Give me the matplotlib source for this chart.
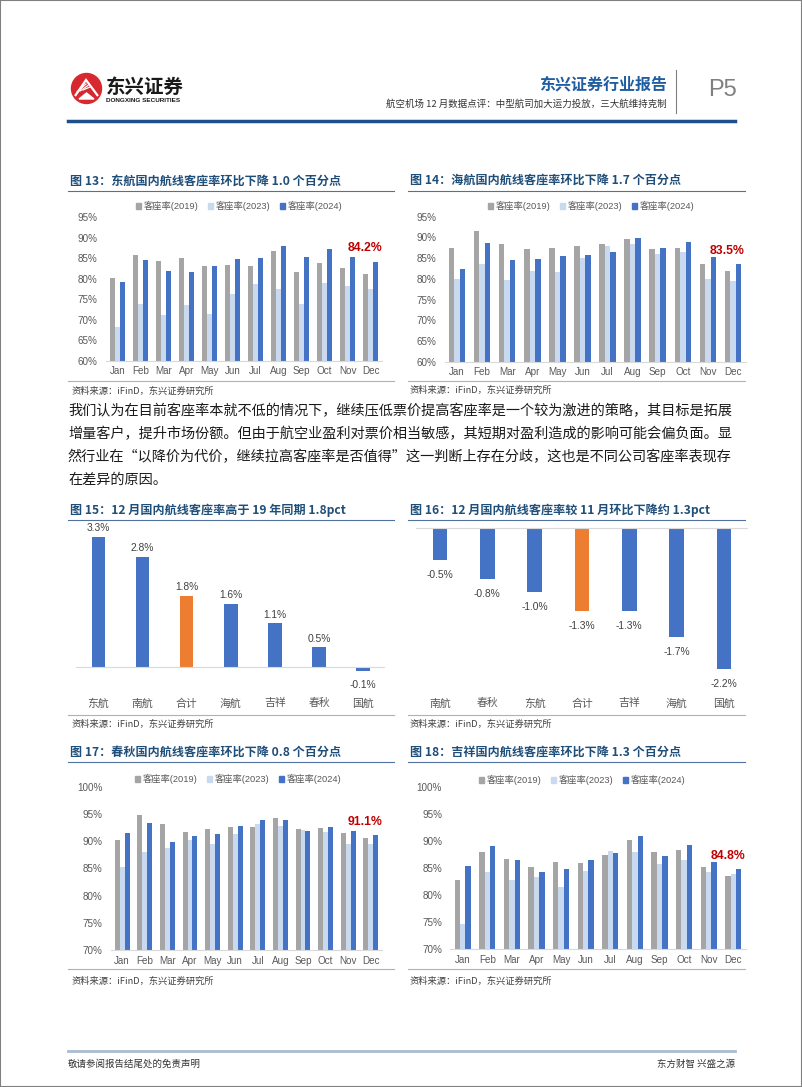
import numpy as np
import matplotlib.pyplot as plt
from matplotlib.patches import Rectangle, Circle, Patch, Polygon
from matplotlib.lines import Line2D

W, H = 802, 1087
plt.rcParams['font.family'] = ['Liberation Sans', 'Noto Sans CJK SC', 'DejaVu Sans']
CJK = ['Noto Sans CJK SC', 'DejaVu Sans']

# ---- data ----
MONTHS = ['Jan', 'Feb', 'Mar', 'Apr', 'May', 'Jun', 'Jul', 'Aug', 'Sep', 'Oct', 'Nov', 'Dec']
SERIES = ['客座率(2019)', '客座率(2023)', '客座率(2024)']

# 图13 东航
EA_2019 = [80.1, 85.7, 84.3, 85.0, 83.2, 83.4, 83.0, 86.7, 81.6, 83.8, 82.6, 81.1]
EA_2023 = [68.3, 73.8, 71.2, 73.6, 71.4, 76.4, 78.6, 77.6, 73.8, 79.0, 78.2, 77.4]
EA_2024 = [79.1, 84.5, 81.9, 81.6, 83.0, 84.8, 85.0, 88.0, 85.3, 87.2, 85.2, 84.2]

# 图14 海航
HNA_2019 = [87.5, 91.5, 88.4, 87.2, 87.4, 88.0, 88.4, 89.5, 87.3, 87.5, 83.6, 81.9]
HNA_2023 = [80.0, 83.5, 79.7, 81.9, 81.7, 85.1, 87.9, 88.3, 85.9, 86.6, 79.9, 79.6]
HNA_2024 = [82.3, 88.7, 84.6, 84.9, 85.4, 85.8, 86.6, 89.8, 87.5, 88.8, 85.2, 83.5]

# 图17 春秋
SPRING_2019 = [90.3, 94.8, 93.1, 91.8, 92.3, 92.7, 92.6, 94.3, 92.3, 92.5, 91.5, 90.6]
SPRING_2023 = [85.3, 88.0, 88.7, 90.2, 89.6, 91.3, 93.2, 92.8, 92.1, 91.8, 89.6, 89.5]
SPRING_2024 = [91.6, 93.3, 89.9, 91.0, 91.3, 92.9, 93.9, 93.9, 91.9, 92.7, 91.9, 91.1]

# 图18 吉祥
JY_2019 = [82.8, 88.0, 86.7, 85.2, 86.1, 86.0, 87.5, 90.2, 88.0, 88.3, 85.3, 83.5]
JY_2023 = [74.6, 84.4, 82.9, 83.4, 81.5, 84.5, 88.2, 88.1, 85.8, 86.5, 84.3, 84.0]
JY_2024 = [85.4, 89.2, 86.6, 84.3, 84.9, 86.6, 87.9, 90.9, 87.3, 89.4, 86.1, 84.8]

# 图15 vs 2019
VS19_CATS = ['东航', '南航', '合计', '海航', '吉祥', '春秋', '国航']
VS19_VALS = [3.3, 2.8, 1.8, 1.6, 1.1, 0.5, -0.1]

# 图16 mom
MOM_CATS = ['南航', '春秋', '东航', '合计', '吉祥', '海航', '国航']
MOM_VALS = [-0.5, -0.8, -1.0, -1.3, -1.3, -1.7, -2.2]

PARA = [
    '我们认为在目前客座率本就不低的情况下，继续压低票价提高客座率是一个较为激进的策略，其目标是拓展',
    '增量客户，提升市场份额。但由于航空业盈利对票价相当敏感，其短期对盈利造成的影响可能会偏负面。显',
    '然行业在“以降价为代价，继续拉高客座率是否值得”这一判断上存在分歧，这也是不同公司客座率表现存',
    '在差异的原因。',
]
SOURCE = '资料来源：iFinD，东兴证券研究所'

C19, C23, C24 = '#A5A5A5', '#C9DAF0', '#4472C4'
BLUE, ORANGE = '#4472C4', '#ED7D31'
TITLE_C = '#1F4E79'
TICK_C = '#595959'

fig = plt.figure(figsize=(W / 100, H / 100), dpi=100)
fig.patch.set_facecolor('white')


def add_ax(left, top, right, bottom):
    return fig.add_axes([left / W, 1 - bottom / H, (right - left) / W, (bottom - top) / H])


def ftext(x, y, s, **kw):
    return fig.text(x / W, 1 - y / H, s, **kw)


def hline(x0, x1, y, **kw):
    fig.add_artist(Line2D([x0 / W, x1 / W], [1 - y / H, 1 - y / H], transform=fig.transFigure, **kw))


def fig_title(x, y, s):
    ftext(x, y, s, family=CJK, fontsize=8.7, fontweight='bold', color=TITLE_C, va='center')


def source(x, y):
    ftext(x, y, SOURCE, family=CJK, fontsize=6.7, style='italic', color='#404040', va='center')


def month_chart(box, v19, v23, v24, ylim, step, hl, legend_xy):
    ax = add_ax(*box)
    x = np.arange(len(MONTHS))
    w = 0.22
    ax.bar(x - w, v19, w, color=C19)
    ax.bar(x, v23, w, color=C23)
    ax.bar(x + w, v24, w, color=C24)
    ax.set_xlim(-0.5, len(MONTHS) - 0.5)
    ax.set_ylim(*ylim)
    ax.set_yticks(np.arange(ylim[0], ylim[1] + 0.1, step))
    ax.yaxis.set_major_formatter(lambda v, p: f'{v:.0f}%')
    ax.set_xticks(x, MONTHS)
    ax.tick_params(length=0, colors=TICK_C, labelsize=7.1)
    ax.tick_params(axis='x', pad=4)
    ax.tick_params(axis='y', pad=6)
    for s in ['top', 'right', 'left']:
        ax.spines[s].set_visible(False)
    ax.spines['bottom'].set_color('#D9D9D9')
    ax.spines['bottom'].set_linewidth(0.8)
    ax.patch.set_alpha(0)
    ax.annotate(hl, xy=(x[-1] + w, v24[-1]), xytext=(-8, 9.5), textcoords='offset points',
                ha='center', va='center', fontsize=8.8, fontweight='bold', color='#C00000')
    handles = [Patch(color=c) for c in (C19, C23, C24)]
    ax.legend(handles, SERIES, loc='center', bbox_to_anchor=(legend_xy[0] / W, 1 - legend_xy[1] / H),
              bbox_transform=fig.transFigure, ncol=3, frameon=False,
              handlelength=0.6, handleheight=0.6, handletextpad=0.25, columnspacing=1.0,
              labelcolor=TICK_C, prop={'family': ['Liberation Sans', 'Noto Sans CJK SC'], 'size': 6.7})
    return ax


def diff_chart(box, cats, vals, ylim):
    ax = add_ax(*box)
    colors = [ORANGE if c == '合计' else BLUE for c in cats]
    bars = ax.bar(range(len(cats)), vals, 0.31, color=colors)
    ax.axhline(0, color='#D9D9D9', lw=0.8)
    ax.set_xlim(-0.5, len(cats) - 0.5)
    ax.set_ylim(*ylim)
    ax.set_xticks(range(len(cats)), cats, family=CJK)
    ax.set_yticks([])
    ax.tick_params(length=0, labelsize=7.8, colors=TICK_C, pad=6)
    for s in ax.spines.values():
        s.set_visible(False)
    ax.patch.set_alpha(0)
    pos = [f'{v:.1f}%' if v >= 0 else '' for v in vals]
    neg = [f'{v:.1f}%' if v < 0 else '' for v in vals]
    ax.bar_label(bars, labels=pos, padding=2.5, fontsize=7.4, color='#404040')
    ax.bar_label(bars, labels=neg, padding=7, fontsize=7.4, color='#404040')
    return ax


# ---- page frame / header ----
fig.add_artist(Rectangle((0, 0), 1, 1, transform=fig.transFigure, fill=False, ec='#808080', lw=1.5))

lax = add_ax(70, 72, 103, 105)
lax.set_xlim(0, 33)
lax.set_ylim(33, 0)
lax.set_aspect('equal')
lax.axis('off')
lax.add_patch(Circle((16.5, 16.5), 15, color='#D7282F'))
lax.add_patch(Polygon([[5, 24], [16, 8], [28, 24]], closed=False, fill=False, ec='white', lw=1.6))
for k in range(3):
    lax.plot([7 + 3 * k, 16 + 2 * k], [20 - 1 * k, 12 + 1.5 * k], color='white', lw=0.9)
lax.add_patch(Polygon([[9, 27], [16.5, 21], [24, 27]], closed=True, color='white'))

ftext(106, 87, '东兴证券', family=CJK, fontsize=14, fontweight='bold', color='#1a1a1a', va='center')
ftext(106, 100.5, 'DONGXING SECURITIES', fontsize=4.6, fontweight='bold', color='#1a1a1a', va='center')

ftext(667, 84, '东兴证券行业报告', family=CJK, fontsize=11.5, fontweight='bold', color='#1F5DA0',
      ha='right', va='center')
ftext(667, 104, '航空机场 12 月数据点评：中型航司加大运力投放，三大航维持克制', family=CJK,
      fontsize=6.8, color='#333333', ha='right', va='center')
fig.add_artist(Line2D([676 / W, 676 / W], [1 - 70 / H, 1 - 113 / H], transform=fig.transFigure,
                      color='#808080', lw=0.8))
ftext(722, 90, 'P5', fontsize=17, color='#808080', ha='center', va='center')
hline(68, 735, 121, color='#1F4E8C', lw=2.5)

# ---- 图13 / 图14 ----
fig_title(70, 181, '图 13：东航国内航线客座率环比下降 1.0 个百分点')
hline(68, 394, 191, color='#50709F', lw=0.8)
month_chart((105.8, 217.3, 382.2, 360.7), EA_2019, EA_2023, EA_2024, (60, 95), 5, '84.2%', (239, 206))
hline(68, 394, 381, color='#A0B4CC', lw=0.8)
source(72, 391)

fig_title(410, 180, '图 14：海航国内航线客座率环比下降 1.7 个百分点')
hline(408, 745, 191, color='#50709F', lw=0.8)
month_chart((444.5, 216.7, 745.5, 361.7), HNA_2019, HNA_2023, HNA_2024, (60, 95), 5, '83.5%', (591, 206))
hline(408, 745, 381, color='#A0B4CC', lw=0.8)
source(410, 390)

# ---- paragraph ----
for i, line in enumerate(PARA):
    ftext(68, 411 + 23 * i, line, family=CJK, fontsize=10.2, color='#1a1a1a', va='center')

# ---- 图15 / 图16 ----
fig_title(70, 510, '图 15：12 月国内航线客座率高于 19 年同期 1.8pct')
hline(68, 394, 520, color='#50709F', lw=0.8)
diff_chart((76.3, 527, 385.3, 690), VS19_CATS, VS19_VALS, (-0.59, 3.55))
hline(68, 394, 715, color='#A0B4CC', lw=0.8)
source(72, 724)

fig_title(410, 510, '图 16：12 月国内航线客座率较 11 月环比下降约 1.3pct')
hline(408, 745, 520, color='#50709F', lw=0.8)
diff_chart((416.3, 522, 747.7, 690), MOM_CATS, MOM_VALS, (-2.52, 0.09))
hline(408, 745, 715, color='#A0B4CC', lw=0.8)
source(410, 724)

# ---- 图17 / 图18 ----
fig_title(70, 752, '图 17：春秋国内航线客座率环比下降 0.8 个百分点')
hline(68, 394, 762, color='#50709F', lw=0.8)
month_chart((110.9, 787, 382.1, 950), SPRING_2019, SPRING_2023, SPRING_2024, (70, 100), 5, '91.1%', (238, 779))
hline(68, 394, 969, color='#A0B4CC', lw=0.8)
source(72, 981)

fig_title(410, 752, '图 18：吉祥国内航线客座率环比下降 1.3 个百分点')
hline(408, 745, 762, color='#50709F', lw=0.8)
month_chart((450.4, 787.3, 745.6, 949.3), JY_2019, JY_2023, JY_2024, (70, 100), 5, '84.8%', (582, 780))
hline(408, 745, 969, color='#A0B4CC', lw=0.8)
source(410, 981)

# ---- footer ----
hline(68, 735, 1051, color='#A9BCD0', lw=2)
ftext(68, 1064, '敬请参阅报告结尾处的免责声明', family=CJK, fontsize=6.8, color='#333333', va='center')
ftext(735, 1064, '东方财智 兴盛之源', family=CJK, fontsize=6.8, color='#333333', ha='right', va='center')

fig.savefig('out.png', dpi=100)
